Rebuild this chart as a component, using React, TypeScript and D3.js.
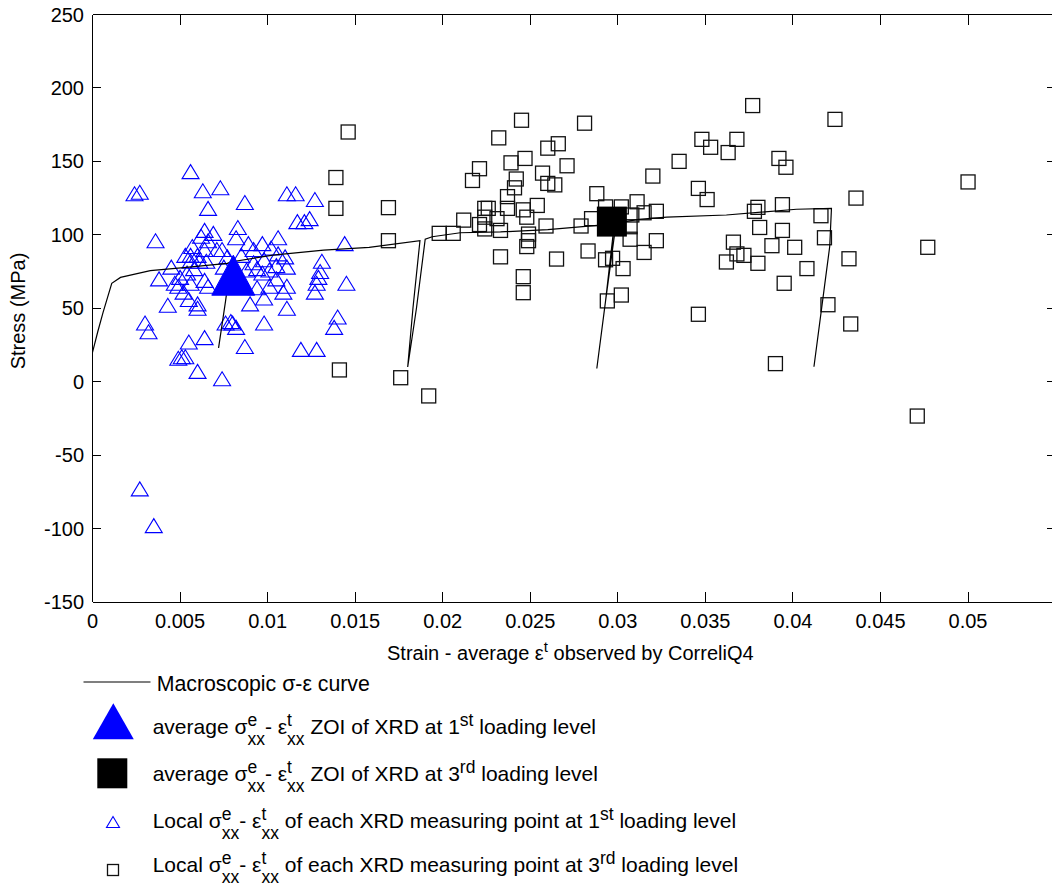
import React from 'react';
import * as d3 from 'd3';

const W = 1052;
const H = 886;
const FONT = '"Liberation Sans", Arial, Helvetica, sans-serif';

const xTicks = [0, 0.005, 0.01, 0.015, 0.02, 0.025, 0.03, 0.035, 0.04, 0.045, 0.05, 0.055];
const xTickLabels = ['0', '0.005', '0.01', '0.015', '0.02', '0.025', '0.03', '0.035', '0.04', '0.045', '0.05', ''];
const yTicks = [-150, -100, -50, 0, 50, 100, 150, 200, 250];
const yTickLabels = ['-150', '-100', '-50', '0', '50', '100', '150', '200', '250'];

// Macroscopic stress-strain curve (with unloading / reloading branches)
const curveStrain = [0, 0.0003, 0.0006, 0.0011, 0.0016, 0.0033, 0.0052, 0.0077, 0.0079, 0.0076, 0.0072, 0.0076, 0.0079,
  0.0103, 0.0132, 0.0158, 0.0187, 0.0183, 0.0180, 0.0185, 0.0190, 0.0194, 0.0210, 0.0233, 0.0260, 0.0275, 0.0298,
  0.0293, 0.0288, 0.0293, 0.0299, 0.0312, 0.0328, 0.0362, 0.0402, 0.0422, 0.0421, 0.0418, 0.0412];
const curveStress = [20, 34, 47, 67, 71, 75.6, 77.6, 80.6, 81.5, 55, 23, 55, 81.5,
  86.2, 89.6, 91.5, 96, 50, 10, 50, 97, 98.7, 101.4, 102, 103.5, 105, 107.5,
  55, 9, 55, 108, 110.5, 112, 113.5, 117.4, 118, 92, 64.7, 10.2];

// Local points, 1st loading level (blue triangles)
const local1Strain = [0.0064, 0.0069, 0.0062, 0.0066, 0.0057, 0.0056, 0.0060, 0.0064, 0.0071, 0.0083, 0.0082, 0.0089, 0.0097,
  0.0106, 0.0102, 0.0110, 0.0105, 0.0111, 0.0098, 0.0092, 0.0088, 0.0097, 0.0105, 0.0111, 0.0109, 0.0098, 0.0090, 0.0086,
  0.0084, 0.0050, 0.0049, 0.0052, 0.0056, 0.0054, 0.0058, 0.0055, 0.0060, 0.0060, 0.0064, 0.0066, 0.0065, 0.0061, 0.0053,
  0.0047, 0.0075, 0.0092, 0.0085, 0.0101, 0.0094, 0.0101, 0.0056, 0.0074, 0.0077, 0.0079, 0.0082, 0.0080, 0.0076, 0.0064,
  0.0055, 0.0051, 0.0049, 0.0053, 0.0060, 0.0074, 0.0087, 0.0098, 0.0111, 0.0119, 0.0128, 0.0140, 0.0138, 0.0145, 0.0144,
  0.0131, 0.0130, 0.0129, 0.0128, 0.0127, 0.0117, 0.0121, 0.0124, 0.0111, 0.0116, 0.0127, 0.0087, 0.0066, 0.0063, 0.0073,
  0.0056, 0.0024, 0.0027, 0.0036, 0.0038, 0.0045, 0.0043, 0.0030, 0.0032, 0.0106, 0.0094, 0.0027, 0.0035];
const local1Stress = [103, 101, 99, 96, 92, 86, 86, 90, 90, 105, 98, 94, 94,
  98, 91, 85, 79, 78, 83, 81, 76, 74, 70, 65, 61, 57, 53, 65,
  71, 71, 65, 61, 67, 74, 77, 56, 53, 50, 69, 65, 82, 82, 86,
  67, 78, 90, 86, 76, 64, 65, 82, 90, 85, 41, 37, 40, 40, 30,
  27, 17, 16, 17, 7, 2, 24, 40, 50, 22, 22, 44, 37, 67, 94,
  82, 75, 71, 67, 61, 109, 109, 111, 128, 128, 124, 122, 118, 130, 132,
  143, 128, 129, 96, 70, 78, 52, 40, 34, 87, 77, -73, -98];

// Local points, 3rd loading level (black squares)
const local3Strain = [0.0146, 0.0139, 0.0139, 0.0141, 0.0169, 0.0169, 0.0176, 0.0192,
  0.0245, 0.0281, 0.0232, 0.0260, 0.0266, 0.0271, 0.0239, 0.0247, 0.0221, 0.0217, 0.0257, 0.0260, 0.0264, 0.0242, 0.0241,
  0.0237, 0.0288, 0.0320, 0.0335, 0.0254, 0.0246, 0.0237, 0.0224, 0.0226, 0.0212, 0.0221, 0.0224, 0.0231, 0.0233, 0.0224,
  0.0248, 0.0259, 0.0249, 0.0249, 0.0248, 0.0206, 0.0198, 0.0233, 0.0265, 0.0246, 0.0246, 0.0279, 0.0285, 0.0293, 0.0302,
  0.0311, 0.0315, 0.0322, 0.0308, 0.0307, 0.0307, 0.0322, 0.0315, 0.0283, 0.0293, 0.0297, 0.0303, 0.0302, 0.0294,
  0.0377, 0.0424, 0.0348, 0.0353, 0.0368, 0.0363, 0.0392, 0.0396, 0.0346, 0.0351, 0.0436, 0.0378, 0.0380, 0.0394, 0.0416,
  0.0381, 0.0394, 0.0418, 0.0366, 0.0388, 0.0401, 0.0368, 0.0372, 0.0362, 0.0380, 0.0408, 0.0432, 0.0395, 0.0420, 0.0433,
  0.0346, 0.0390, 0.0477, 0.0500, 0.0471];
const local3Stress = [170, 139, 118, 8, 118.5, 96, 2.7, -9.7,
  178, 176, 166, 159, 162, 147, 149, 152, 145, 137, 142, 135, 134, 138, 132,
  126, 128, 140, 150, 120, 117, 118, 118, 118, 110, 107, 112, 111, 103, 104,
  112, 106, 100.5, 96, 92, 101, 101, 85, 83.5, 71.5, 60.6, 106, 111, 119, 119,
  122.5, 115, 116, 113.5, 105.5, 97, 96, 88, 89, 83, 84, 77, 59, 55,
  188, 178.6, 165, 159.6, 165, 156, 152, 146, 131.6, 124, 125, 116, 118.7, 120.5, 113,
  105, 103, 98, 95, 92.6, 91.5, 87, 86, 81.5, 80.6, 77, 83.7, 67, 52.4, 39.3,
  45.9, 12.3, 91.5, 136, -23.4];

// Average points
const avg1Strain = [0.00804];
const avg1Stress = [72.5];
const avg3Strain = [0.02966];
const avg3Stress = [109];

const x = d3.scaleLinear().domain([0, 0.055]).range([92.5, 1055.6]);
const y = d3.scaleLinear().domain([-150, 250]).range([602, 14.5]);

const triPath = (w: number, h: number) => `M0,${-h / 2}L${w / 2},${h / 2}L${-w / 2},${h / 2}Z`;

const BLUE = '#0000ff';

function LegendLine({ x0, yb, pre, post, ord, fs }: { x0: number; yb: number; pre: string; post: string; ord: string; fs: number }) {
  const sm = 17.5;
  const eW = 0.556 * sm;
  const tW = 0.278 * sm;
  const up = 8;
  const down = 11;
  return (
    <text x={x0} y={yb} fontSize={fs} fontFamily={FONT} fill="#000">
      <tspan>{pre + ' σ'}</tspan>
      <tspan dy={-up} fontSize={sm}>e</tspan>
      <tspan dx={-eW} dy={up + down} fontSize={sm}>xx</tspan>
      <tspan dy={-down}>{'- ε'}</tspan>
      <tspan dy={-up} fontSize={sm}>t</tspan>
      <tspan dx={-tW} dy={up + down} fontSize={sm}>xx</tspan>
      <tspan dy={-down}>{post}</tspan>
      <tspan dy={-up} fontSize={sm}>{ord}</tspan>
      <tspan dy={up}>{' loading level'}</tspan>
    </text>
  );
}

export default function App() {
  const line = d3.line<number>().x((_, i) => x(curveStrain[i])).y((_, i) => y(curveStress[i]));
  const curveD = line(curveStrain) || '';
  const x0 = x(0), x1 = x(0.055), yB = y(-150), yT = y(250);
  const smallTri = triPath(17, 14);
  const bigTri = triPath(43, 40);

  return (
    <svg width={W} height={H} style={{ position: 'absolute', left: 0, top: 0, background: '#fff' }} fontFamily={FONT}>
      <rect x={0} y={0} width={W} height={H} fill="#fff" />
      {/* local 1st level triangles */}
      <g fill="none" stroke={BLUE} strokeWidth={1.1}>
        {local1Strain.map((s, i) => (
          <path key={i} d={smallTri} transform={`translate(${x(s)},${y(local1Stress[i])})`} />
        ))}
      </g>
      {/* local 3rd level squares */}
      <g fill="none" stroke="#111" strokeWidth={1.3}>
        {local3Strain.map((s, i) => (
          <rect key={i} x={x(s) - 7} y={y(local3Stress[i]) - 7} width={14} height={14} />
        ))}
      </g>
      {/* macroscopic curve */}
      <path d={curveD} fill="none" stroke="#000" strokeWidth={1.2} />
      {/* averages */}
      {avg1Strain.map((s, i) => (
        <path key={'a1' + i} d={bigTri} fill={BLUE} stroke={BLUE} transform={`translate(${x(s)},${y(avg1Stress[i])})`} />
      ))}
      {avg3Strain.map((s, i) => (
        <rect key={'a3' + i} x={x(s) - 15} y={y(avg3Stress[i]) - 15} width={30} height={30} fill="#000" />
      ))}

      {/* axes box */}
      <g stroke="#000" strokeWidth={1} fill="none" shapeRendering="crispEdges">
        <line x1={x0} x2={x1} y1={yB} y2={yB} />
        <line x1={x0} x2={x1} y1={yT} y2={yT} />
        <line x1={x0} x2={x0} y1={yT} y2={yB} />
        <line x1={x1} x2={x1} y1={yT} y2={yB} />
        {xTicks.map((t, i) => (
          <g key={'xt' + i}>
            <line x1={x(t)} x2={x(t)} y1={yB} y2={yB - 10} />
            <line x1={x(t)} x2={x(t)} y1={yT} y2={yT + 10} />
          </g>
        ))}
        {yTicks.map((t, i) => (
          <g key={'yt' + i}>
            <line x1={x0} x2={x0 + 8} y1={y(t)} y2={y(t)} />
            <line x1={x1} x2={x1 - 9} y1={y(t)} y2={y(t)} />
          </g>
        ))}
      </g>
      <g fontSize={20} fill="#000">
        {xTicks.map((t, i) => (
          <text key={'xl' + i} x={x(t)} y={628} textAnchor="middle">{xTickLabels[i]}</text>
        ))}
        {yTicks.map((t, i) => (
          <text key={'yl' + i} x={84} y={y(t) + 7} textAnchor="end">{yTickLabels[i]}</text>
        ))}
      </g>
      <text x={387} y={660} fontSize={20} fill="#000">
        <tspan>{'Strain - average ε'}</tspan>
        <tspan dy={-8} fontSize={15}>t</tspan>
        <tspan dy={8}>{' observed by CorreliQ4'}</tspan>
      </text>
      <text transform="translate(25,311) rotate(-90)" textAnchor="middle" fontSize={20} fill="#000">Stress (MPa)</text>

      {/* legend */}
      <line x1={83.5} x2={150.5} y1={682} y2={682} stroke="#000" strokeWidth={1.2} />
      <text x={156.7} y={691} fontSize={21.3} fill="#000">Macroscopic σ-ε curve</text>

      <path d={triPath(41, 36)} fill={BLUE} transform="translate(113.3,721.3)" />
      <LegendLine x0={152.7} yb={734} pre="average" post=" ZOI of XRD at 1" ord="st" fs={21} />

      <rect x={97.3} y={758.3} width={30} height={30} fill="#000" />
      <LegendLine x0={152.7} yb={781} pre="average" post=" ZOI of XRD at 3" ord="rd" fs={21} />

      <path d={triPath(13, 11)} fill="none" stroke={BLUE} strokeWidth={1.1} transform="translate(113,822)" />
      <LegendLine x0={152.7} yb={828} pre="Local" post=" of each XRD measuring point at 1" ord="st" fs={21} />

      <rect x={107.5} y={864.5} width={11} height={11} fill="none" stroke="#111" strokeWidth={1.3} />
      <LegendLine x0={152.7} yb={872} pre="Local" post=" of each XRD measuring point at 3" ord="rd" fs={21} />
    </svg>
  );
}
